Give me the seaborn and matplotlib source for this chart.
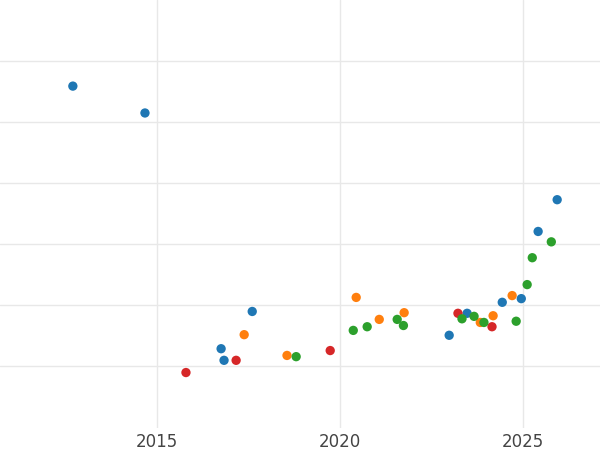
import pandas as pd
import seaborn as sns
import matplotlib.pyplot as plt

# values (x in years, y in grid units)
blue_x = [2012.70, 2014.67, 2016.75, 2016.83, 2017.60, 2022.98, 2023.47, 2024.43, 2024.95, 2025.41, 2025.93]
blue_y = [5.59, 5.15, 1.29, 1.10, 1.90, 1.51, 1.87, 2.05, 2.11, 3.21, 3.73]
red_x = [2015.79, 2017.16, 2019.73, 2023.22, 2024.15]
red_y = [0.90, 1.10, 1.26, 1.87, 1.65]
orange_x = [2017.38, 2018.55, 2020.44, 2021.07, 2021.75, 2023.83, 2024.18, 2024.70]
orange_y = [1.52, 1.18, 2.13, 1.77, 1.88, 1.72, 1.83, 2.16]
green_x = [2018.80, 2020.36, 2020.74, 2021.56, 2021.73, 2023.33, 2023.66, 2023.93, 2024.81, 2025.11, 2025.25, 2025.77]
green_y = [1.16, 1.59, 1.65, 1.77, 1.67, 1.78, 1.82, 1.72, 1.74, 2.34, 2.78, 3.04]

groups = {"a": (blue_x, blue_y), "b": (red_x, red_y), "c": (orange_x, orange_y), "d": (green_x, green_y)}
rows = []
for g, (xs, ys) in groups.items():
    for x, y in zip(xs, ys):
        rows.append({"year": x, "value": y, "group": g})
df = pd.DataFrame(rows)

palette = {"a": "#1f77b4", "b": "#d62728", "c": "#ff7f0e", "d": "#2ca02c"}

sns.set_style("whitegrid")
fig = plt.figure(figsize=(6, 4.5), dpi=100)
ax = fig.add_axes([0, 0.05, 1, 0.95])
sns.scatterplot(data=df, x="year", y="value", hue="group", palette=palette,
                s=45, edgecolor="none", legend=False, ax=ax, zorder=3)

ax.set_xlim(2010.71, 2027.1)
ax.set_ylim(0, 7)
ax.set_xticks([2015, 2020, 2025])
ax.set_yticks([1, 2, 3, 4, 5, 6])
ax.set_yticklabels([])
ax.tick_params(axis="x", labelsize=12, colors="#444444", length=0, pad=4)
ax.tick_params(axis="y", length=0)
ax.grid(color="#e8e8e8", linewidth=1)
for s in ax.spines.values():
    s.set_visible(False)
ax.set_xlabel("")
ax.set_ylabel("")

fig.savefig("out.png", dpi=100)
